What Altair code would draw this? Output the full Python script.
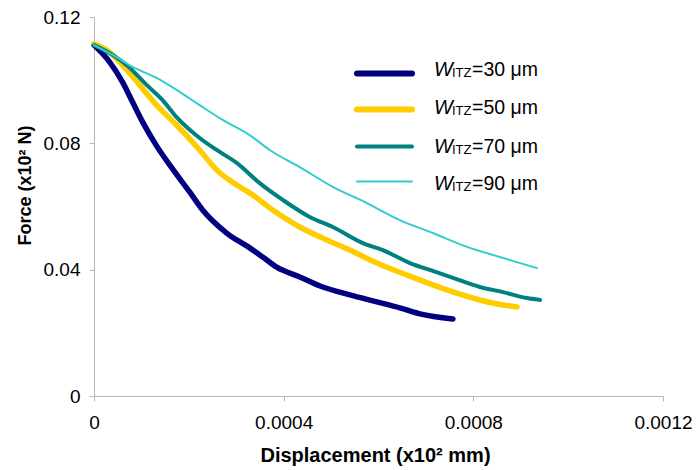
import altair as alt
import pandas as pd

# ---- data (x in 10^2 mm, y in 10^2 N) ----
x30 = [0.0, 0.0000327, 0.0000602, 0.0000813, 0.0001024, 0.0001320, 0.0001657, 0.0002017,
       0.0002291, 0.0002798, 0.0003283, 0.0003558, 0.0003853, 0.0004339, 0.0004825,
       0.0005395, 0.0005965, 0.0006451, 0.0006873, 0.0007570]
y30 = [0.1111, 0.1058, 0.0994, 0.0931, 0.0868, 0.0792, 0.0719, 0.0646, 0.0589, 0.0516,
       0.0469, 0.0440, 0.0408, 0.0377, 0.0345, 0.0320, 0.0298, 0.0279, 0.0260, 0.0244]

x50 = [0.0, 0.0000327, 0.0000602, 0.0000961, 0.0001320, 0.0001742, 0.0002228, 0.0002587,
       0.0003009, 0.0003283, 0.0003769, 0.0004339, 0.0004909, 0.0005395, 0.0005965,
       0.0006599, 0.0007443, 0.0008140, 0.0008626, 0.0008921]
y50 = [0.1115, 0.1089, 0.1048, 0.0985, 0.0921, 0.0858, 0.0779, 0.0716, 0.0668, 0.0643,
       0.0589, 0.0535, 0.0494, 0.0462, 0.0421, 0.0383, 0.0336, 0.0304, 0.0288, 0.0282]

x70 = [0.0, 0.0000391, 0.0000686, 0.0001109, 0.0001446, 0.0001742, 0.0002228, 0.0002587,
       0.0003009, 0.0003494, 0.0003980, 0.0004550, 0.0005036, 0.0005669, 0.0006092,
       0.0006662, 0.0007084, 0.0007570, 0.0008140, 0.0008626, 0.0009133, 0.0009407]
y70 = [0.1111, 0.1080, 0.1048, 0.0985, 0.0937, 0.0883, 0.0817, 0.0779, 0.0738, 0.0674,
       0.0621, 0.0567, 0.0535, 0.0484, 0.0462, 0.0421, 0.0399, 0.0374, 0.0345, 0.0329,
       0.0310, 0.0304]

x90 = [0.0, 0.0000475, 0.0000813, 0.0001320, 0.0001805, 0.0002228, 0.0002713, 0.0003283,
       0.0003705, 0.0004339, 0.0005036, 0.0005754, 0.0006451, 0.0007147, 0.0007865,
       0.0008562, 0.0009343]
y90 = [0.1111, 0.1073, 0.1042, 0.1007, 0.0963, 0.0921, 0.0874, 0.0826, 0.0779, 0.0725,
       0.0662, 0.0611, 0.0557, 0.0516, 0.0472, 0.0440, 0.0405]

series = ["30", "50", "70", "90"]
colors = ["#000080", "#FFCC00", "#008080", "#33CCCC"]
widths = [5.5, 5.5, 4, 2]
legend_widths = [6, 6, 4, 2]
x_ticks = [0, 0.0004, 0.0008, 0.0012]
y_ticks = [0, 0.04, 0.08, 0.12]

xs = [x30, x50, x70, x90]
ys = [y30, y50, y70, y90]

rows = []
for k, (s, xv, yv) in enumerate(zip(series, xs, ys)):
    for i, (a, b) in enumerate(zip(xv, yv)):
        rows.append({"s": s, "x": a, "y": b, "o": i, "w": widths[k]})
df = pd.DataFrame(rows)

FONT = "Liberation Sans"
AXCOL = "#b8b8b8"

lines = alt.Chart(df).mark_line(strokeCap="round", strokeJoin="round",
                                interpolate="monotone").encode(
    x=alt.X("x:Q", scale=alt.Scale(domain=[0, 0.0012], nice=False),
            axis=alt.Axis(values=x_ticks, title="Displacement (x10² mm)",
                          labelExpr="datum.value == 0 ? '0' : format(datum.value, '.4f')",
                          grid=False, domainColor=AXCOL, tickColor=AXCOL, tickSize=5,
                          labelFont=FONT, labelFontSize=19, labelColor="#000",
                          labelPadding=12, labelFlush=False,
                          titleFont=FONT, titleFontSize=20, titleFontWeight="bold",
                          titleColor="#000", titleBaseline="middle", titleAlign="center",
                          titleX=281, titleY=59)),
    y=alt.Y("y:Q", scale=alt.Scale(domain=[0, 0.12], nice=False),
            axis=alt.Axis(values=y_ticks, title="Force (x10² N)",
                          labelExpr="datum.value == 0 ? '0' : format(datum.value, '.2f')",
                          grid=False, domainColor=AXCOL, tickColor=AXCOL, tickSize=5,
                          labelFont=FONT, labelFontSize=19, labelColor="#000",
                          labelPadding=9, labelFlush=False,
                          titleFont=FONT, titleFontSize=18, titleFontWeight="bold",
                          titleColor="#000", titleAngle=-90, titleBaseline="middle",
                          titleAlign="center", titleX=-69, titleY=168)),
    color=alt.Color("s:N", scale=alt.Scale(domain=series, range=colors), legend=None),
    strokeWidth=alt.StrokeWidth("w:Q", scale=None, legend=None),
    order="o:Q",
)

# ---- manual legend (W italic + ITZ subscript + "=.. µm") ----
leg = pd.DataFrame({
    "s": series,
    "ly": [56.5, 92.5, 129.5, 164.5],
    "tb": [58.5, 96.5, 135.5, 173],
    "rest": [f"={v} μm" for v in series],
    "lw": legend_widths,
})
leg["sb"] = leg["tb"] + 1

leg_lines = alt.Chart(leg).mark_rule(strokeCap="round").encode(
    x=alt.value(357 - 94), x2=alt.value(412 - 94),
    y=alt.Y("ly:Q", scale=None),
    color=alt.Color("s:N", scale=alt.Scale(domain=series, range=colors), legend=None),
    strokeWidth=alt.StrokeWidth("lw:Q", scale=None, legend=None),
)
leg_w = alt.Chart(leg).mark_text(text="W", font=FONT, fontSize=20, fontStyle="italic",
                                 align="left", baseline="alphabetic", color="#000").encode(
    x=alt.value(434 - 94), y=alt.Y("tb:Q", scale=None))
leg_sub = alt.Chart(leg).mark_text(text="ITZ", font=FONT, fontSize=13,
                                   align="left", baseline="alphabetic", color="#000").encode(
    x=alt.value(452 - 94), y=alt.Y("sb:Q", scale=None))
leg_rest = alt.Chart(leg).mark_text(font=FONT, fontSize=19.5,
                                    align="left", baseline="alphabetic", color="#000").encode(
    x=alt.value(472 - 94), y=alt.Y("tb:Q", scale=None), text="rest:N")

chart = alt.layer(lines, leg_lines, leg_w, leg_sub, leg_rest).resolve_scale(
    y="independent", color="independent", strokeWidth="independent"
).properties(
    width=569, height=379,
    autosize=alt.AutoSizeParams(type="none"),
    padding={"left": 94, "top": 17, "right": 33, "bottom": 74},
    background="white",
).configure_view(stroke=None)

chart.save("out.html", embed_options={"renderer": "svg", "actions": False})
